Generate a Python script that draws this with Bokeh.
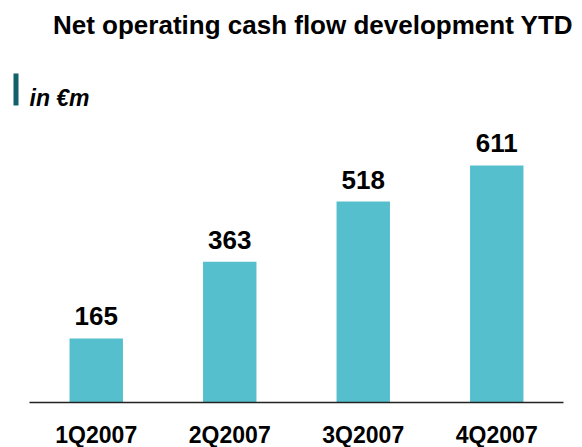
from bokeh.plotting import figure
from bokeh.models import Range1d, Label, ColumnDataSource
from bokeh.embed import file_html
from bokeh.resources import INLINE
from bokeh.core.properties import value

# ---- data ----
categories = ["1Q2007", "2Q2007", "3Q2007", "4Q2007"]
cash_flow = [165, 363, 518, 611]
value_labels = [str(v) for v in cash_flow]
title_text = "Net operating cash flow development YTD"
unit_text = "in €m"

# ---- layout helpers (page px -> data coords) ----
W, H = 582, 447
OFF = 0                  # observed page offset of the canvas
X_PX_PER_UNIT = 133.5
X0_PAGE = 95.75          # page x of first category centre
Y_PX_PER_UNIT = 0.388
Y0_PAGE = 402.0          # page y of baseline
TEXT_DY = 8              # observed downward shift of rendered text baselines

def px_x(page_x):
    return (page_x - X0_PAGE) / X_PX_PER_UNIT

def px_y(page_y):
    return (Y0_PAGE - page_y) / Y_PX_PER_UNIT

def tx_y(page_y):
    return px_y(page_y - TEXT_DY)

p = figure(width=W, height=H, output_backend="svg", toolbar_location=None,
           x_range=Range1d(px_x(OFF), px_x(OFF + W)),
           y_range=Range1d(px_y(OFF + H), px_y(OFF)),
           x_axis_location=None, y_axis_location=None,
           min_border=0, min_border_left=0, min_border_right=0,
           min_border_top=0, min_border_bottom=0)
p.outline_line_color = None
p.grid.visible = False
p.background_fill_color = "white"
p.border_fill_color = "white"

FONT = value("Liberation Sans")
idx = list(range(len(categories)))
src = ColumnDataSource(dict(x=idx, top=cash_flow, lab=value_labels, cat=categories,
                            ycat=[tx_y(442)] * len(categories)))

p.vbar(x="x", top="top", bottom=0, width=0.4, source=src,
       fill_color="#56BFCD", line_color=None)

# baseline
p.segment(x0=-0.5, x1=len(categories) - 0.5, y0=0, y1=0,
          line_color="#222222", line_width=1.5)

# value labels
p.text(x="x", y="top", text="lab", source=src, text_font=FONT,
       text_font_size="26px", text_font_style="bold", text_color="black",
       text_align="center", text_baseline="alphabetic", y_offset=-(14 + TEXT_DY))

# category labels
p.text(x="x", y="ycat", text="cat", source=src, text_font=FONT,
       text_font_size="23px", text_font_style="bold", text_color="black",
       text_align="center", text_baseline="alphabetic")

# title
p.add_layout(Label(x=px_x(312.5), y=tx_y(32), text=title_text,
                   text_font="Liberation Sans", text_font_size="26px",
                   text_font_style="bold", text_color="black",
                   text_align="center", text_baseline="alphabetic"))

# unit marker and label
p.quad(left=px_x(13), right=px_x(18), top=px_y(73), bottom=px_y(105),
       fill_color="#13606B", line_color=None)
p.add_layout(Label(x=px_x(29), y=tx_y(105), text=unit_text,
                   text_font="Liberation Sans", text_font_size="23px",
                   text_font_style="bold italic", text_color="black",
                   text_align="left", text_baseline="alphabetic"))

open("out.html", "w").write(file_html(p, INLINE))
